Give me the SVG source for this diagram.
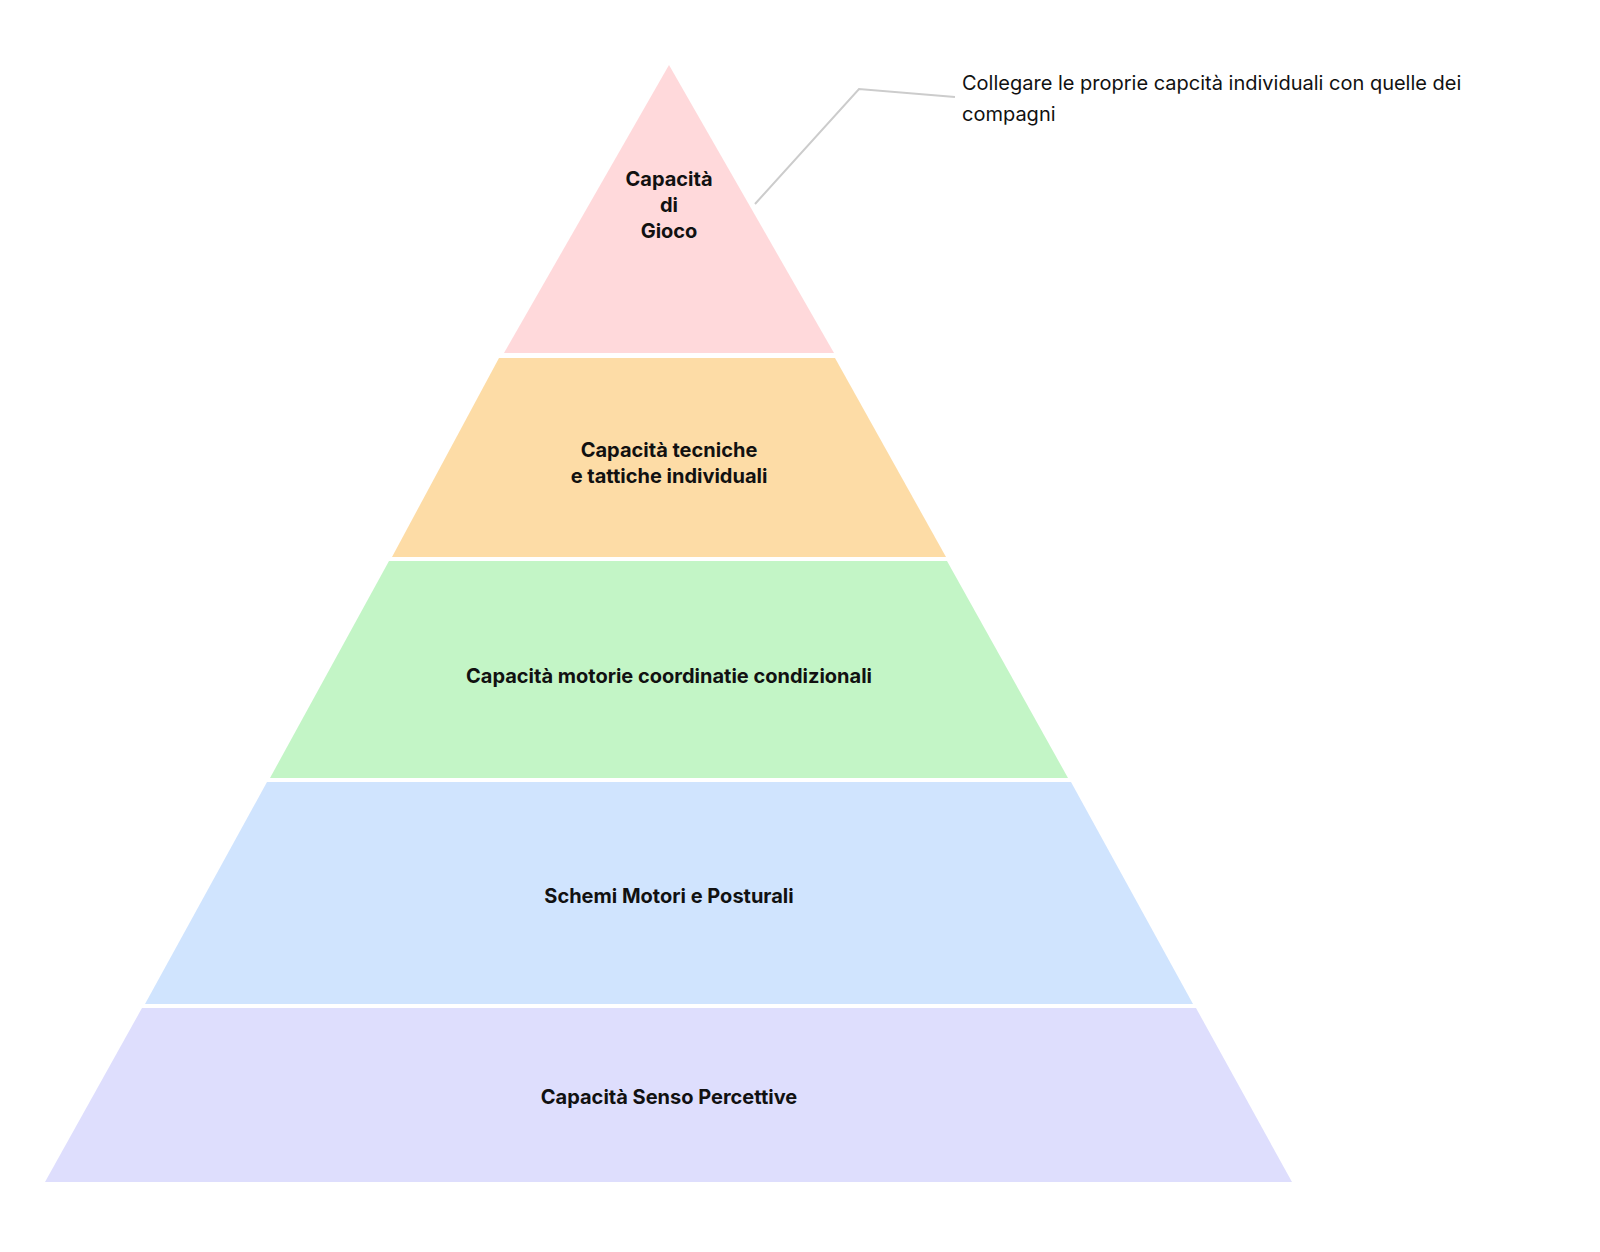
<svg xmlns="http://www.w3.org/2000/svg" width="1600" height="1252" viewBox="0 0 1600 1252">
<style>
.lbl{font-family:Inter,"Liberation Sans",sans-serif;font-weight:700;font-size:20px;fill:#111;text-anchor:middle}
.note{font-family:Inter,"Liberation Sans",sans-serif;font-size:20px;fill:#111}
</style>
<rect width="1600" height="1252" fill="#fff"/>
<g id="layer1"><polygon points="669,65 834,353 504,353" fill="#FFD9DB"/>
<text class="lbl" x="669" y="186">Capacità</text><text class="lbl" x="669" y="212">di</text><text class="lbl" x="669" y="238">Gioco</text></g>
<g id="layer2"><polygon points="499,358 835,358 946,557 392,557" fill="#FDDCA6"/>
<text class="lbl" x="669" y="457">Capacità tecniche</text><text class="lbl" x="669" y="483">e tattiche individuali</text></g>
<g id="layer3"><polygon points="389,561 947,561 1068,778 270,778" fill="#C3F5C6"/>
<text class="lbl" x="669" y="683">Capacità motorie coordinatie condizionali</text></g>
<g id="layer4"><polygon points="267,782 1071,782 1193,1004 145,1004" fill="#D0E4FE"/>
<text class="lbl" x="669" y="903">Schemi Motori e Posturali</text></g>
<g id="layer5"><polygon points="142,1008 1196,1008 1292,1182 45,1182" fill="#DEDEFD"/>
<text class="lbl" x="669" y="1104">Capacità Senso Percettive</text></g>
<g id="connectors"><polyline points="755,204 859,89 955,97" fill="none" stroke="#cccccc" stroke-width="2"/></g>
<g id="note"><text class="note" x="962" y="90">Collegare le proprie capcità individuali con quelle dei</text><text class="note" x="962" y="121">compagni</text></g>
</svg>
